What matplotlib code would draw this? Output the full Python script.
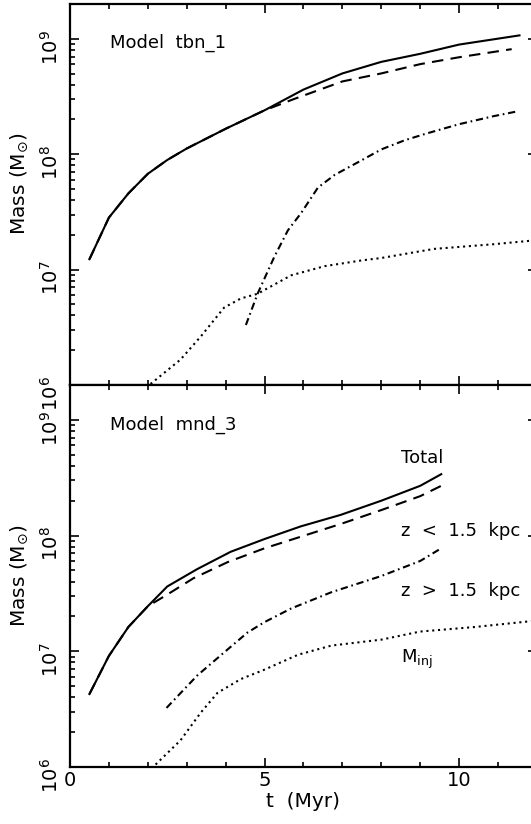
import matplotlib
matplotlib.use("Agg")
import matplotlib.pyplot as plt
from matplotlib.ticker import LogLocator, MultipleLocator, NullFormatter

plt.rcParams["font.family"] = ["DejaVu Sans"]
plt.rcParams["mathtext.fontset"] = "dejavusans"

# Model tbn_1: mass evolution (solar masses) vs time (Myr)
tbn_t_total = [0.5, 1.0, 1.5, 2.0, 2.5, 3.0, 4.0, 5.0, 6.0, 7.0, 8.0, 9.0, 10.0, 11.55]
tbn_total = [1.23e7, 2.82e7, 4.57e7, 6.76e7, 8.91e7, 1.12e8, 1.66e8, 2.40e8,
             3.63e8, 5.01e8, 6.31e8, 7.41e8, 8.91e8, 1.07e9]
tbn_t_low = [0.5, 1.0, 1.5, 2.0, 2.5, 3.0, 4.0, 5.0, 5.75, 7.0, 8.0, 9.0, 10.0, 11.35]
tbn_low = [1.23e7, 2.82e7, 4.57e7, 6.76e7, 8.91e7, 1.12e8, 1.66e8, 2.40e8,
           3.0e8, 4.27e8, 5.01e8, 6.03e8, 6.92e8, 8.13e8]
tbn_t_high = [4.52, 4.82, 5.25, 5.6, 5.94, 6.37, 6.8, 7.4, 8.0, 8.6, 9.16, 10.0, 10.9, 11.47]
tbn_high = [3.31e6, 6.17e6, 1.29e7, 2.19e7, 3.09e7, 5.13e7, 6.61e7, 8.51e7,
            1.10e8, 1.32e8, 1.51e8, 1.82e8, 2.14e8, 2.34e8]
tbn_t_inj = [2.07, 2.84, 3.36, 3.96, 4.39, 4.82, 5.68, 6.54, 7.49, 8.0, 9.35, 10.9, 11.85]
tbn_inj = [1.02e6, 1.66e6, 2.63e6, 4.68e6, 5.62e6, 6.17e6, 8.91e6, 1.07e7,
           1.20e7, 1.26e7, 1.51e7, 1.66e7, 1.78e7]

# Model mnd_3
mnd_t_total = [0.5, 1.0, 1.5, 2.0, 2.5, 3.27, 4.13, 5.0, 5.93, 6.96, 8.0, 9.0, 9.54]
mnd_total = [4.27e6, 9.12e6, 1.62e7, 2.45e7, 3.63e7, 5.13e7, 7.24e7, 9.33e7,
             1.20e8, 1.51e8, 2.00e8, 2.69e8, 3.39e8]
mnd_t_low = [0.5, 1.0, 1.5, 2.0, 2.5, 3.17, 4.05, 5.0, 5.93, 6.96, 8.0, 9.0, 9.54]
mnd_low = [4.27e6, 9.12e6, 1.62e7, 2.45e7, 3.09e7, 4.27e7, 5.89e7, 7.76e7,
           9.77e7, 1.26e8, 1.66e8, 2.19e8, 2.69e8]
mnd_t_high = [2.48, 3.27, 3.96, 4.56, 4.99, 5.68, 6.72, 8.0, 9.0, 9.54]
mnd_high = [3.24e6, 6.17e6, 9.77e6, 1.45e7, 1.78e7, 2.34e7, 3.24e7, 4.47e7, 6.03e7, 7.76e7]
mnd_t_inj = [2.2, 2.84, 3.36, 3.79, 4.39, 4.99, 5.86, 6.72, 8.0, 9.0, 10.4, 11.85]
mnd_inj = [1.05e6, 1.70e6, 2.95e6, 4.37e6, 5.75e6, 6.92e6, 9.33e6, 1.12e7,
           1.26e7, 1.48e7, 1.62e7, 1.82e7]

curve_labels = ["Total", "z  <  1.5  kpc", "z  >  1.5  kpc", r"M$_{\mathregular{inj}}$"]
curve_label_y = [4.7e8, 1.1e8, 3.3e7, 8.5e6]

FS_TEXT = 13
FS_TICK = 14
FS_AXIS = 14.5
LW = 1.5


def style_axis(ax):
    ax.set_xlim(0, 12)
    ax.set_yscale("log")
    ax.set_ylim(1e6, 2e9)
    ax.xaxis.set_major_locator(MultipleLocator(5))
    ax.xaxis.set_minor_locator(MultipleLocator(1))
    ax.yaxis.set_major_locator(LogLocator(base=10))
    ax.yaxis.set_minor_locator(LogLocator(base=10, subs=range(2, 10)))
    ax.yaxis.set_minor_formatter(NullFormatter())
    ax.tick_params(which="both", direction="in", top=True, right=True, width=1.2)
    ax.tick_params(which="major", length=6.5)
    ax.tick_params(which="minor", length=3.5)
    ax.tick_params(axis="y", which="major", labelrotation=90, pad=6, labelsize=FS_TICK)
    ax.tick_params(axis="x", which="major", pad=3, labelsize=FS_TICK)
    for sp in ax.spines.values():
        sp.set_linewidth(1.6)
    ax.set_ylabel(r"Mass (M$_{\odot}$)", fontsize=FS_AXIS)


def draw_model(ax, curves):
    (t_tot, m_tot), (t_low, m_low), (t_high, m_high), (t_inj, m_inj) = curves
    ax.plot(t_tot, m_tot, color="black", lw=LW)
    ax.plot(t_low, m_low, color="black", lw=LW, dashes=(5.5, 3.5))
    ax.plot(t_high, m_high, color="black", lw=LW, dashes=(3.5, 1.8, 0.8, 1.8))
    ax.plot(t_inj, m_inj, color="black", lw=LW, dashes=(1.0, 1.8))


fig = plt.figure(figsize=(5.31, 8.24), dpi=100)
ax_top = fig.add_axes([0.1318, 0.5328, 0.8795, 0.4623])
ax_bot = fig.add_axes([0.1318, 0.0692, 0.8795, 0.4636])

for ax in (ax_top, ax_bot):
    style_axis(ax)

ax_top.yaxis.set_label_coords(-0.085, 0.53)
ax_bot.yaxis.set_label_coords(-0.085, 0.5)

draw_model(ax_top, [(tbn_t_total, tbn_total), (tbn_t_low, tbn_low),
                    (tbn_t_high, tbn_high), (tbn_t_inj, tbn_inj)])
draw_model(ax_bot, [(mnd_t_total, mnd_total), (mnd_t_low, mnd_low),
                    (mnd_t_high, mnd_high), (mnd_t_inj, mnd_inj)])

ax_top.tick_params(axis="x", labelbottom=False)
ax_top.text(0.086, 0.898, "Model  tbn_1", transform=ax_top.transAxes,
            fontsize=FS_TEXT, ha="left", va="center")
ax_bot.text(0.086, 0.895, "Model  mnd_3", transform=ax_bot.transAxes,
            fontsize=FS_TEXT, ha="left", va="center")

for label, y in zip(curve_labels, curve_label_y):
    ax_bot.text(8.5, y, label, fontsize=FS_TEXT, ha="left", va="center")

ax_bot.set_xlabel("t  (Myr)", fontsize=FS_AXIS, labelpad=1)

fig.savefig("out.png", dpi=100)
